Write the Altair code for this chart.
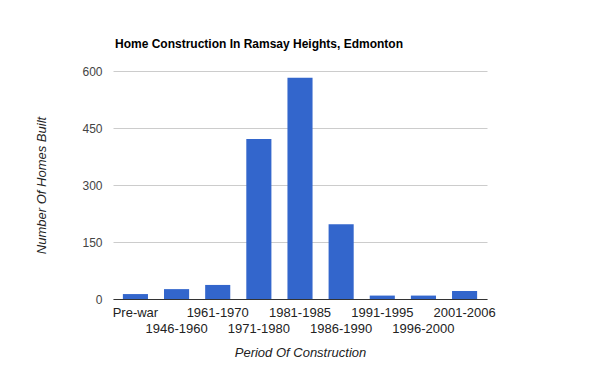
import altair as alt
import pandas as pd

periods = ["Pre-war", "1946-1960", "1961-1970", "1971-1980", "1981-1985",
           "1986-1990", "1991-1995", "1996-2000", "2001-2006"]
homes = [13, 26, 37, 421, 582, 197, 9, 9, 21]
y_ticks = [0, 150, 300, 450, 600]
second_row = ["1946-1960", "1971-1980", "1986-1990", "1996-2000"]

df = pd.DataFrame({"period": periods, "homes": homes})

second_row_js = "[" + ",".join("'" + s + "'" for s in second_row) + "]"

chart = alt.Chart(df).mark_bar(color="#3366cc").encode(
    x=alt.X(
        "period:N",
        sort=periods,
        scale=alt.Scale(paddingInner=0.39, paddingOuter=0.24),
        axis=alt.Axis(
            title="Period Of Construction",
            titleFont="Arial", titleFontSize=13, titleFontStyle="italic",
            titleFontWeight="normal", titleColor="#222", titlePadding=11,
            labelFont="Arial", labelFontSize=13, labelColor="#222",
            labelAngle=0, labelPadding=7, labelLineHeight=16,
            labelExpr="indexof(" + second_row_js + ", datum.value) >= 0 ? ['', datum.label] : datum.label",
            ticks=False, domainColor="#333", domainWidth=1,
            labelOverlap=False,
        ),
    ),
    y=alt.Y(
        "homes:Q",
        scale=alt.Scale(domain=[0, 600], nice=False),
        axis=alt.Axis(
            title="Number Of Homes Built", values=y_ticks,
            titleFont="Arial", titleFontSize=13, titleFontStyle="italic",
            titleFontWeight="normal", titleColor="#222", titlePadding=33,
            labelFont="Arial", labelFontSize=12, labelColor="#444",
            labelPadding=11, ticks=False, domain=False,
            gridColor="#cccccc", gridWidth=1,
        ),
    ),
).properties(
    width=374, height=228,
    title=alt.TitleParams(
        "Home Construction In Ramsay Heights, Edmonton",
        anchor="start", frame="group", font="Arial", fontSize=12,
        fontWeight="bold", color="#000", offset=14, dx=2,
    ),
    padding={"left": 105, "top": 63, "right": 100, "bottom": 70},
    autosize=alt.AutoSizeParams(type="none"),
).configure_view(stroke=None)

chart.save("out.html", embed_options={"renderer": "svg", "actions": False})
